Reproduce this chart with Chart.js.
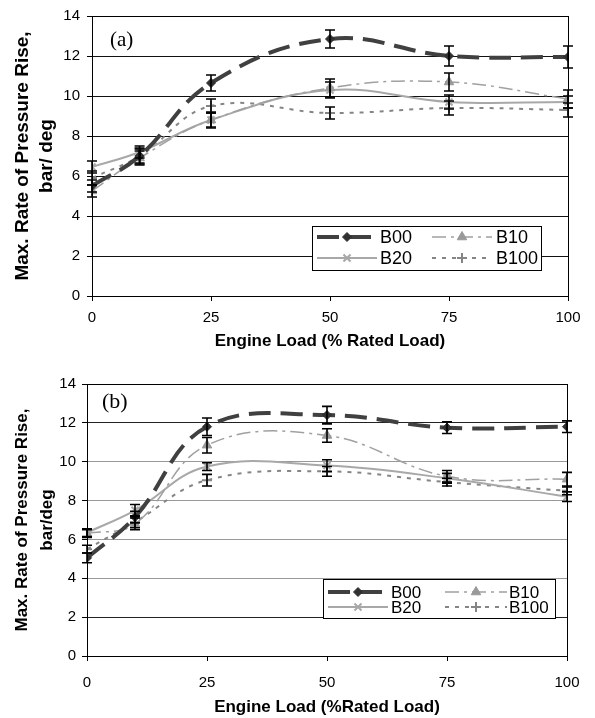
<!DOCTYPE html>
<html>
<head>
<meta charset="utf-8">
<script src="https://cdn.jsdelivr.net/npm/chart.js"></script>
<style>
    body { margin: 0; background: #fff; }
    .panel { position: relative; width: 595px; }
    canvas { display: block; }
</style>
</head>
<body>
<div class="panel"><canvas id="chartA" width="595" height="360"></canvas></div>
<div class="panel"><canvas id="chartB" width="595" height="358"></canvas></div>
<script>
// engine load (% rated load) where the tests were run
const loads = [0, 10, 25, 50, 75, 100];
const xTickLabels = [0, 25, 50, 75, 100];
const yTickLabels = [0, 2, 4, 6, 8, 10, 12, 14];
const seriesNames = ['B00', 'B10', 'B20', 'B100'];

// panel (a)
const aB00 = [5.5, 7.0, 10.65, 12.85, 12.0, 11.95];
const aB10 = [5.25, 6.9, 8.8, 10.4, 10.7, 9.85];
const aB20 = [6.45, 7.2, 8.8, 10.3, 9.7, 9.7];
const aB100 = [5.9, 7.0, 9.5, 9.15, 9.4, 9.3];
const aB00Err = [0.3, 0.35, 0.4, 0.45, 0.5, 0.55];
const aB10Err = [0.3, 0.35, 0.4, 0.45, 0.45, 0.45];
const aB20Err = [0.3, 0.3, 0.35, 0.4, 0.35, 0.3];
const aB100Err = [0.35, 0.4, 0.35, 0.3, 0.35, 0.35];

// panel (b)
const bB00 = [5.05, 7.15, 11.8, 12.4, 11.75, 11.8];
const bB10 = [6.3, 6.8, 10.85, 11.35, 9.25, 9.1];
const bB20 = [6.35, 7.5, 9.75, 9.8, 9.15, 8.2];
const bB100 = [5.5, 6.9, 9.05, 9.5, 8.95, 8.5];
const bB00Err = [0.25, 0.3, 0.45, 0.45, 0.3, 0.3];
const bB10Err = [0.2, 0.3, 0.4, 0.35, 0.3, 0.35];
const bB20Err = [0.2, 0.3, 0.2, 0.3, 0.25, 0.25];
const bB100Err = [0.2, 0.3, 0.3, 0.25, 0.2, 0.2];

const seriesStyles = [
    { borderColor: '#404040', backgroundColor: '#303030', borderWidth: 4, borderDash: [22, 10],
      pointStyle: 'rectRot', pointRadius: 4.5, pointBorderWidth: 1 },
    { borderColor: '#a0a0a0', backgroundColor: '#999999', borderWidth: 1.5, borderDash: [14, 5, 3, 5],
      pointStyle: 'triangle', pointRadius: 5.5, pointBorderWidth: 1 },
    { borderColor: '#a8a8a8', backgroundColor: '#a8a8a8', borderWidth: 2, borderDash: [],
      pointStyle: 'crossRot', pointRadius: 5, pointBorderWidth: 2 },
    { borderColor: '#858585', backgroundColor: '#858585', borderWidth: 2, borderDash: [4, 6],
      pointStyle: 'cross', pointRadius: 5, pointBorderWidth: 2 }
];

function buildDatasets(values, errors) {
    return seriesNames.map((name, i) => {
        const s = seriesStyles[i];
        return {
            label: name,
            data: loads.map((x, j) => ({ x: x, y: values[i][j] })),
            errors: errors[i],
            borderColor: s.borderColor,
            backgroundColor: s.backgroundColor,
            borderWidth: s.borderWidth,
            borderDash: s.borderDash,
            pointStyle: s.pointStyle,
            pointRadius: s.pointRadius,
            pointBorderWidth: s.pointBorderWidth,
            pointBorderColor: s.backgroundColor,
            pointBackgroundColor: s.backgroundColor,
            tension: 0.4,
            fill: false
        };
    });
}

// error bars, frame, panel tag and the boxed legend
const panelPlugin = {
    id: 'panel',
    afterDatasetsDraw(chart) {
        const ctx = chart.ctx;
        const yScale = chart.scales.y;
        ctx.save();
        ctx.strokeStyle = '#000';
        ctx.lineWidth = 1.6;
        ctx.setLineDash([]);
        chart.data.datasets.forEach((ds, i) => {
            const meta = chart.getDatasetMeta(i);
            meta.data.forEach((pt, j) => {
                const v = ds.data[j].y;
                const e = ds.errors[j];
                const top = yScale.getPixelForValue(v + e);
                const bot = yScale.getPixelForValue(v - e);
                const x = pt.x;
                ctx.beginPath();
                ctx.moveTo(x, top); ctx.lineTo(x, bot);
                ctx.moveTo(x - 5, top); ctx.lineTo(x + 5, top);
                ctx.moveTo(x - 5, bot); ctx.lineTo(x + 5, bot);
                ctx.stroke();
            });
        });
        ctx.restore();
    },
    afterDraw(chart, args, opts) {
        const ctx = chart.ctx;
        const area = chart.chartArea;
        ctx.save();

        // plot frame
        ctx.strokeStyle = '#000';
        ctx.lineWidth = 1;
        ctx.strokeRect(Math.round(area.left) + 0.5, Math.round(area.top) + 0.5,
            Math.round(area.right - area.left), Math.round(area.bottom - area.top));

        // (a)/(b)
        ctx.fillStyle = '#000';
        ctx.font = opts.tagFont;
        ctx.textBaseline = 'middle';
        ctx.textAlign = 'left';
        ctx.fillText(opts.tag, opts.tagX, opts.tagY);

        // legend
        const lg = opts.legend;
        ctx.fillStyle = '#fff';
        ctx.fillRect(lg.x, lg.y, lg.w, lg.h);
        ctx.strokeStyle = '#000';
        ctx.lineWidth = 1;
        ctx.strokeRect(lg.x + 0.5, lg.y + 0.5, lg.w, lg.h);
        ctx.font = lg.font;
        chart.data.datasets.forEach((ds, i) => {
            const row = lg.rows[Math.floor(i / 2)];
            const col = lg.cols[i % 2];
            ctx.strokeStyle = ds.borderColor;
            ctx.lineWidth = ds.borderWidth;
            ctx.setLineDash(ds.borderDash);
            ctx.beginPath();
            ctx.moveTo(col[0], row);
            ctx.lineTo(col[1], row);
            ctx.stroke();
            ctx.setLineDash([]);
            ctx.fillStyle = ds.pointBackgroundColor;
            ctx.strokeStyle = ds.pointBorderColor;
            ctx.lineWidth = ds.pointBorderWidth;
            if (Chart.helpers && Chart.helpers.drawPoint) {
                Chart.helpers.drawPoint(ctx, {
                    pointStyle: ds.pointStyle, radius: ds.pointRadius,
                    borderWidth: ds.pointBorderWidth, rotation: 0
                }, (col[0] + col[1]) / 2, row);
            }
            ctx.fillStyle = '#000';
            ctx.textAlign = 'left';
            ctx.textBaseline = 'middle';
            ctx.fillText(ds.label, col[2], row + 1);
        });
        ctx.restore();
    }
};

function makeChart(id, values, errors, cfg) {
    return new Chart(document.getElementById(id), {
        type: 'line',
        data: { datasets: buildDatasets(values, errors) },
        options: {
            responsive: false,
            animation: false,
            devicePixelRatio: 1,
            layout: { padding: { left: 0, top: cfg.top, right: cfg.right, bottom: 0 } },
            plugins: {
                legend: { display: false },
                tooltip: { enabled: false },
                panel: cfg.panel
            },
            scales: {
                x: {
                    type: 'linear',
                    min: 0,
                    max: 100,
                    afterBuildTicks: (scale) => { scale.ticks = xTickLabels.map(v => ({ value: v })); },
                    afterFit: (scale) => { scale.height = cfg.xHeight; },
                    grid: { drawOnChartArea: false, color: '#000', tickLength: 5 },
                    border: { color: '#000', width: 1 },
                    ticks: {
                        color: '#000',
                        padding: cfg.xTickPad,
                        maxRotation: 0,
                        font: { family: 'Liberation Sans, Arial, sans-serif', size: 15 }
                    },
                    title: {
                        display: true,
                        text: cfg.xTitle,
                        color: '#000',
                        padding: { top: 0, bottom: cfg.xTitlePad },
                        font: { family: 'Liberation Sans, Arial, sans-serif', size: 17, weight: 'bold', lineHeight: 1.2 }
                    }
                },
                y: {
                    min: 0,
                    max: 14,
                    afterBuildTicks: (scale) => { scale.ticks = yTickLabels.map(v => ({ value: v })); },
                    afterFit: (scale) => { scale.width = cfg.yWidth; },
                    grid: {
                        color: cfg.gridColor,
                        tickColor: '#000',
                        tickLength: 5,
                        lineWidth: 1
                    },
                    border: { color: '#000', width: 1 },
                    ticks: {
                        color: '#000',
                        padding: cfg.yTickPad,
                        font: { family: 'Liberation Sans, Arial, sans-serif', size: 15 }
                    },
                    title: {
                        display: true,
                        text: cfg.yTitle,
                        color: '#000',
                        padding: { top: cfg.yTitlePad, bottom: 0 },
                        font: { family: 'Liberation Sans, Arial, sans-serif', size: cfg.yTitleSize, weight: 'bold', lineHeight: cfg.yTitleLH }
                    }
                }
            }
        },
        plugins: [panelPlugin]
    });
}

makeChart('chartA',
    [aB00, aB10, aB20, aB100],
    [aB00Err, aB10Err, aB20Err, aB100Err],
    {
        top: 16, right: 27, xHeight: 64, yWidth: 92,
        xTickPad: 8, yTickPad: 7, xTitlePad: 8, yTitlePad: 10,
        yTitleSize: 19, yTitleLH: 1.3,
        xTitle: 'Engine Load (% Rated Load)',
        yTitle: ['Max. Rate of Pressure Rise,', 'bar/ deg'],
        gridColor: '#111',
        panel: {
            tag: '(a)', tagX: 110, tagY: 40, tagFont: '21px "Liberation Serif", "Times New Roman", serif',
            legend: {
                x: 312, y: 226, w: 229, h: 44,
                rows: [237, 258],
                cols: [[317, 377, 380], [432, 492, 496]],
                font: '18px "Liberation Sans", Arial, sans-serif'
            }
        }
    });

makeChart('chartB',
    [bB00, bB10, bB20, bB100],
    [bB00Err, bB10Err, bB20Err, bB100Err],
    {
        top: 24, right: 28, xHeight: 62, yWidth: 87,
        xTickPad: 13, yTickPad: 6, xTitlePad: 0, yTitlePad: 10,
        yTitleSize: 17, yTitleLH: 1.45,
        xTitle: 'Engine Load (%Rated Load)',
        yTitle: ['Max. Rate of Pressure Rise,', 'bar/deg'],
        gridColor: (c) => (c.tick && (c.tick.value >= 12 || c.tick.value <= 2)) ? '#222' : '#999',
        panel: {
            tag: '(b)', tagX: 102, tagY: 42, tagFont: '22px "Liberation Serif", "Times New Roman", serif',
            legend: {
                x: 323, y: 219, w: 232, h: 39,
                rows: [232, 247],
                cols: [[328, 388, 391], [445, 507, 509]],
                font: '17px "Liberation Sans", Arial, sans-serif'
            }
        }
    });
</script>
</body>
</html>
